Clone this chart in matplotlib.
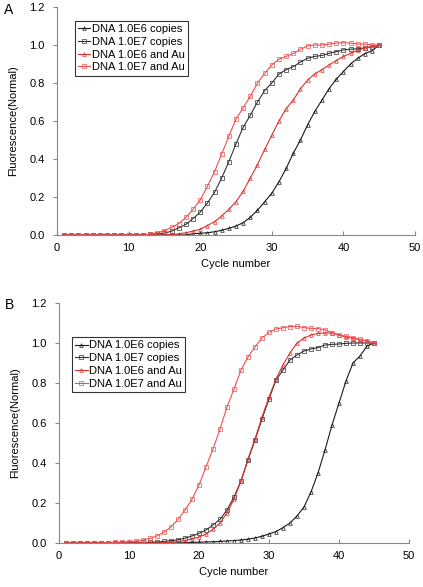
import matplotlib.pyplot as plt
import numpy as np

plt.rcParams['font.family'] = ['Liberation Sans', 'DejaVu Sans']

# Ciclos PCR
cycles = np.arange(1, 46)

labels = ['DNA 1.0E6 copies', 'DNA 1.0E7 copies', 'DNA 1.0E6 and Au', 'DNA 1.0E7 and Au']

# Painel A
a_e6 = [0.0] * 18 + [0.007, 0.009, 0.012, 0.017, 0.025, 0.035, 0.047, 0.065, 0.093,
                     0.13, 0.175, 0.22, 0.28, 0.35, 0.43, 0.50, 0.58, 0.65, 0.71,
                     0.77, 0.82, 0.86, 0.90, 0.93, 0.955, 0.97, 1.0]
a_e7 = [0.0] * 12 + [0.003, 0.006, 0.01, 0.02, 0.037, 0.056, 0.086, 0.12, 0.168, 0.224,
                     0.30, 0.386, 0.48, 0.567, 0.63, 0.70, 0.76, 0.80, 0.847, 0.87,
                     0.886, 0.91, 0.93, 0.94, 0.945, 0.956, 0.965, 0.974, 0.978, 0.98,
                     0.985, 0.99, 1.0]
a_e6_au = [0.0] * 15 + [0.003, 0.006, 0.012, 0.02, 0.03, 0.05, 0.07, 0.10, 0.135, 0.175,
                        0.23, 0.30, 0.37, 0.45, 0.525, 0.60, 0.665, 0.71, 0.77, 0.815,
                        0.848, 0.87, 0.895, 0.918, 0.94, 0.956, 0.972, 0.985, 0.992, 1.0]
a_e7_au = [0.0] * 12 + [0.006, 0.012, 0.023, 0.04, 0.06, 0.093, 0.135, 0.184, 0.256, 0.333,
                        0.426, 0.52, 0.61, 0.67, 0.73, 0.80, 0.85, 0.895, 0.925, 0.94,
                        0.956, 0.977, 0.995, 1.0, 1.0, 1.005, 1.01, 1.012, 1.01, 1.005,
                        1.005, 1.0, 1.0]

# Painel B
b_e6 = [0.0] * 17 + [0.002, 0.003, 0.004, 0.005, 0.006, 0.008, 0.01, 0.012, 0.015, 0.019,
                     0.025, 0.034, 0.045, 0.057, 0.077, 0.10, 0.135, 0.18, 0.255, 0.35,
                     0.465, 0.59, 0.70, 0.81, 0.90, 0.935, 0.985, 1.0]
b_e7 = [0.0] * 10 + [0.002, 0.003, 0.004, 0.005, 0.008, 0.012, 0.016, 0.024, 0.035, 0.048,
                     0.065, 0.09, 0.118, 0.165, 0.23, 0.31, 0.415, 0.515, 0.62, 0.72,
                     0.815, 0.865, 0.915, 0.94, 0.96, 0.97, 0.977, 0.99, 0.993, 0.995,
                     0.998, 1.0, 1.0, 1.0, 1.0]
b_e6_au = [0.0] * 14 + [0.002, 0.004, 0.007, 0.012, 0.02, 0.03, 0.045, 0.068, 0.10, 0.15,
                        0.22, 0.31, 0.42, 0.52, 0.63, 0.73, 0.82, 0.89, 0.95, 1.0,
                        1.025, 1.04, 1.048, 1.05, 1.05, 1.04, 1.03, 1.023, 1.017, 1.01,
                        1.0]
b_e7_au = [0.0] * 5 + [0.001, 0.002, 0.003, 0.005, 0.007, 0.01, 0.015, 0.023, 0.035, 0.055,
                       0.08, 0.118, 0.165, 0.218, 0.29, 0.38, 0.47, 0.57, 0.68, 0.77,
                       0.865, 0.93, 0.98, 1.025, 1.053, 1.07, 1.076, 1.082, 1.083, 1.077,
                       1.073, 1.072, 1.066, 1.052, 1.04, 1.034, 1.027, 1.018, 1.01, 1.0]

colors = ['#1a1a1a', '#333333', '#e0302a', '#ee5050']
markers = ['^', 's', '^', 's']

fig = plt.figure(figsize=(4.23, 5.87), dpi=100)
ax_a = fig.add_axes([57 / 423, 1 - 235 / 587, 358 / 423, 228 / 587])
ax_b = fig.add_axes([59 / 423, 1 - 543 / 587, 350 / 423, 240 / 587])

panels = [
    (ax_a, [a_e6, a_e7, a_e6_au, a_e7_au], (0.05, 0.94), 'A'),
    (ax_b, [b_e6, b_e7, b_e6_au, b_e7_au], (0.037, 0.858), 'B'),
]

for ax, series, leg_pos, letter in panels:
    for vals, lab, c, m in zip(series, labels, colors, markers):
        ax.plot(cycles, vals, color=c, lw=0.8, marker=m, ms=2.6, mfc='none',
                mew=0.5, label=lab)
    ax.set_xlim(0, 50)
    ax.set_ylim(0, 1.2)
    ax.set_xticks(range(0, 51, 10))
    ax.set_yticks(np.arange(0, 1.21, 0.2))
    ax.yaxis.set_major_formatter(plt.FormatStrFormatter('%.1f'))
    for s in ['top', 'right']:
        ax.spines[s].set_visible(False)
    for s in ['left', 'bottom']:
        ax.spines[s].set_color('#888888')
        ax.spines[s].set_linewidth(0.8)
    ax.tick_params(axis='x', direction='in', length=3, color='#888888', labelsize=8, pad=6)
    ax.tick_params(axis='y', direction='out', length=3, color='#888888', labelsize=8, pad=6)
    ax.set_xlabel('Cycle number', fontsize=8, labelpad=4)
    ax.set_ylabel('Fluorescence(Normal)', fontsize=8, labelpad=8)
    leg = ax.legend(loc='upper left', bbox_to_anchor=leg_pos, borderaxespad=0,
                    fontsize=8, frameon=True, fancybox=False, handlelength=1.1,
                    handletextpad=0.15, labelspacing=0.25, borderpad=0.3)
    leg.get_frame().set_edgecolor('black')
    leg.get_frame().set_linewidth(0.8)

fig.text(4 / 423, 1 - 10 / 587, 'A', fontsize=10, va='center')
fig.text(5 / 423, 1 - 305 / 587, 'B', fontsize=10, va='center')

plt.savefig('out.png', dpi=100)
plt.close()
